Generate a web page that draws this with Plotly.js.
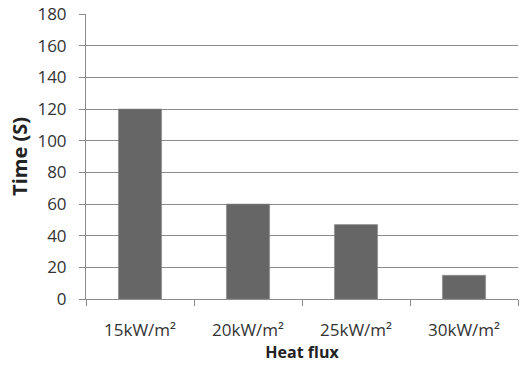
<!DOCTYPE html>
<html>
<head>
<meta charset="utf-8">
<script src="https://cdn.plot.ly/plotly-3.0.1.min.js"></script>
<style>html,body{margin:0;padding:0;background:#fff;}#chart{width:520px;height:370px;}</style>
</head>
<body>
<div id="chart"></div>
<script>
const categories = ["15kW/m²", "20kW/m²", "25kW/m²", "30kW/m²"];
const timeValues = [120, 60, 47, 15];
const yTicks = [0, 20, 40, 60, 80, 100, 120, 140, 160, 180];

const trace = {
  type: "bar",
  x: categories,
  y: timeValues,
  marker: { color: "#666666", line: { color: "#8a8a8a", width: 0.5 } },
  hoverinfo: "none"
};

const layout = {
  width: 520,
  height: 370,
  margin: { l: 86, r: 2, t: 14, b: 71 },
  paper_bgcolor: "#ffffff",
  plot_bgcolor: "#ffffff",
  bargap: 0.6,
  showlegend: false,
  font: { family: "Open Sans, sans-serif", color: "#404040" },
  xaxis: {
    type: "category",
    tickson: "boundaries",
    ticks: "outside",
    ticklen: 6,
    tickcolor: "#8c8c8c",
    tickwidth: 1,
    showline: true,
    linecolor: "#8c8c8c",
    linewidth: 1,
    showgrid: false,
    ticklabelstandoff: 16,
    tickfont: { size: 17, color: "#333333" },
    title: { text: "Heat flux", font: { size: 16, color: "#222222", weight: "bold" }, standoff: 4 }
  },
  yaxis: {
    range: [0, 180],
    tickvals: yTicks,
    ticks: "outside",
    ticklen: 6,
    tickcolor: "#8c8c8c",
    showline: true,
    linecolor: "#8c8c8c",
    linewidth: 1,
    showgrid: true,
    gridcolor: "#8c8c8c",
    gridwidth: 1,
    zeroline: false,
    ticklabelstandoff: 9,
    tickfont: { size: 17, color: "#333333" },
    title: { text: "Time (S)", font: { size: 20, color: "#222222", weight: "bold" }, standoff: 4 }
  }
};

Plotly.newPlot("chart", [trace], layout, { displayModeBar: false, staticPlot: true });
</script>
</body>
</html>
